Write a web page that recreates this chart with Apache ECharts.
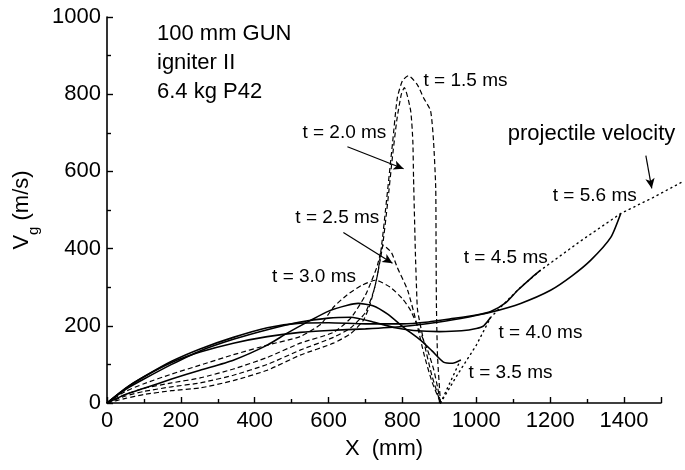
<!DOCTYPE html>
<html><head><meta charset="utf-8">
<script src="https://cdn.jsdelivr.net/npm/echarts@6/dist/echarts.min.js"></script>
<style>html,body{margin:0;padding:0;background:#fff}#c{width:685px;height:470px}</style>
</head><body><div id="c"></div>
<script>
// ---- data (x in mm, Vg in m/s) ----
var t15 = [[0,0],[50,12],[100,22],[175,32],[252,39],[342,58],[434,85],[523,124],[613,155],[660,180],[694,214],[713,258],[732,330],[745,420],[754,499],[773,672],[786,790],[800,835],[816,848],[840,825],[857,791],[876,757],[884,680],[890,558],[891,400],[892,250],[895,120],[903,0]];
var t20 = [[0,0],[50,18],[100,30],[175,42],[252,52],[342,72],[434,100],[523,137],[613,170],[660,195],[700,235],[725,300],[745,400],[760,520],[772,630],[785,735],[797,800],[805,817],[822,758],[828,680],[830,584],[835,388],[838,300],[841,240],[860,150],[880,70],[903,0]];
var t25 = [[0,0],[50,22],[100,38],[175,52],[252,65],[342,88],[434,118],[523,155],[613,183],[660,220],[700,280],[730,350],[749,408],[770,390],[786,351],[814,292],[840,200],[860,120],[880,55],[903,0]];
var t30 = [[0,0],[50,30],[100,50],[175,75],[252,98],[342,125],[434,150],[523,172],[580,205],[613,248],[650,280],[690,305],[727,318],[767,300],[800,270],[822,240],[845,190],[868,137],[885,85],[895,41],[903,0]];
var t35 = [[0,0],[50,22],[100,38],[175,62],[252,85],[342,111],[434,150],[488,181],[551,214],[600,238],[651,253],[680,258],[720,252],[760,230],[803,196],[849,163],[880,135],[911,106],[936,103],[957,111]];
var t40 = [[0,0],[50,35],[100,62],[175,100],[252,135],[342,165],[434,190],[523,210],[600,220],[660,222],[720,210],[780,195],[830,188],[900,185],[960,187],[1000,193],[1020,200],[1039,222]];
var t45 = [[0,0],[50,38],[100,68],[175,108],[252,140],[342,170],[434,195],[523,207],[600,208],[700,205],[800,205],[870,210],[930,218],[1000,228],[1039,237],[1080,260],[1112,292],[1150,325],[1174,344]];
var t56 = [[0,0],[50,38],[100,68],[175,105],[252,132],[342,155],[434,172],[523,183],[600,188],[700,192],[800,198],[900,210],[980,223],[1039,235],[1120,258],[1201,292],[1260,330],[1310,370],[1364,429],[1391,491]];
var projVel = [[903,0],[950,75],[1000,150],[1039,222],[1080,262],[1120,300],[1174,344],[1280,418],[1391,491],[1478,532],[1554,571]];
var projLink = [[903,0],[957,111]];
var xTicks = [0,200,400,600,800,1000,1200,1400];
var yTicks = [0,200,400,600,800,1000];

// ---- annotations (data coords) ----
var labels = [
  {text:'t = 1.5 ms', at:[857,835]},
  {text:'t = 2.0 ms', at:[529,700]},
  {text:'t = 2.5 ms', at:[510,481]},
  {text:'t = 3.0 ms', at:[447,326]},
  {text:'t = 3.5 ms', at:[979,78]},
  {text:'t = 4.0 ms', at:[1060,181]},
  {text:'t = 4.5 ms', at:[966,377]},
  {text:'t = 5.6 ms', at:[1207,537]}
];
var arrows = [
  [[651,664],[803,607]],
  [[640,442],[773,362]],
  [[1459,641],[1475,556]]
];

var FONT = 'Liberation Sans, Arial, sans-serif';
var GL = 107, GR = 24, GR2 = 3, W = 685;
var plotW = W - GL - GR, plotW2 = W - GL - GR2;
var X_MAX = 1500, X_MAX2 = X_MAX * plotW2 / plotW; // same scale, wider overlay grid

var chart = echarts.init(document.getElementById('c'), null, {renderer:'canvas'});

function dashed(name, data){
  return {name:name, type:'line', data:data, symbol:'none', smooth:0.2, clip:false,
    lineStyle:{color:'#000', width:1.2, type:[5,3]}};
}
function solid(name, data){
  return {name:name, type:'line', data:data, symbol:'none', smooth:0.2, clip:false,
    lineStyle:{color:'#000', width:1.6, type:'solid'}};
}

var series = [
  dashed('t15', t15), dashed('t20', t20), dashed('t25', t25), dashed('t30', t30),
  solid('t35', t35), solid('t40', t40), solid('t45', t45), solid('t56', t56),
  {name:'proj', type:'line', data:projVel, symbol:'none', clip:false, xAxisIndex:1, yAxisIndex:1,
   lineStyle:{color:'#000', width:1.4, type:[1.2,4], cap:'round'},
   markPoint:{symbol:'circle', symbolSize:0, silent:true,
     label:{show:true, position:'right', distance:0, color:'#000', fontFamily:FONT, fontSize:19,
       formatter:function(p){return p.name;}},
     data: labels.map(function(l){return {name:l.text, coord:l.at};}).concat([
       {name:'projectile velocity', coord:[1085,698], label:{fontSize:22}}])
   },
   markLine:{silent:true, symbol:['none','arrow'], symbolSize:[7,10],
     lineStyle:{color:'#000', width:1.2, type:'solid'}, label:{show:false},
     data: arrows.map(function(a){return [{coord:a[0]},{coord:a[1]}];})
   }},
  {name:'projLink', type:'line', data:projLink, symbol:'none', clip:false, xAxisIndex:1, yAxisIndex:1,
   lineStyle:{color:'#000', width:1.4, type:[1.2,4], cap:'round'}}
];

var option = {
  animation:false,
  backgroundColor:'#fff',
  title:{text:'100 mm GUN\nigniter II\n6.4 kg P42', left:152, top:14,
    textStyle:{fontFamily:FONT, fontSize:22, fontWeight:'normal', color:'#000', lineHeight:29}},
  grid:[
    {left:GL, right:GR, top:17, bottom:67, containLabel:false},
    {left:GL, right:GR2, top:17, bottom:67, containLabel:false}
  ],
  xAxis:[{type:'value', gridIndex:0, min:0, max:X_MAX, interval:200,
    name:'X  (mm)', nameLocation:'middle', nameGap:35,
    nameTextStyle:{fontFamily:FONT, fontSize:22, color:'#000'},
    axisLine:{show:true, lineStyle:{color:'#000', width:1.6}},
    axisTick:{show:true, inside:true, length:6, lineStyle:{color:'#000', width:1.4}},
    minorTick:{show:true, splitNumber:2, length:4, lineStyle:{color:'#000', width:1.4}},
    splitLine:{show:false},
    axisLabel:{showMaxLabel:false, margin:7, fontFamily:FONT, fontSize:22, color:'#000',
      formatter:function(v){return xTicks.indexOf(v)>=0 ? String(v) : '';}}},
    {type:'value', gridIndex:1, min:0, max:X_MAX2, show:false, splitLine:{show:false}}
  ],
  yAxis:[{type:'value', gridIndex:0, min:0, max:1000, interval:200,
    name:'V{s|g} (m/s)', nameLocation:'middle', nameGap:66, nameRotate:90,
    nameTextStyle:{fontFamily:FONT, fontSize:22, color:'#000',
      rich:{s:{fontFamily:FONT, fontSize:15, color:'#000', verticalAlign:'bottom', padding:[0,0,-8,0]}}},
    axisLine:{show:true, lineStyle:{color:'#000', width:1.6}},
    axisTick:{show:true, inside:true, length:6, lineStyle:{color:'#000', width:1.4}},
    minorTick:{show:true, splitNumber:2, length:4, lineStyle:{color:'#000', width:1.4}},
    splitLine:{show:false},
    axisLabel:{margin:6, fontFamily:FONT, fontSize:22, color:'#000',
      formatter:function(v){return yTicks.indexOf(v)>=0 ? String(v) : '';}}},
    {type:'value', gridIndex:1, min:0, max:1000, show:false, splitLine:{show:false}}
  ],
  series:series
};
chart.setOption(option);
</script></body></html>
